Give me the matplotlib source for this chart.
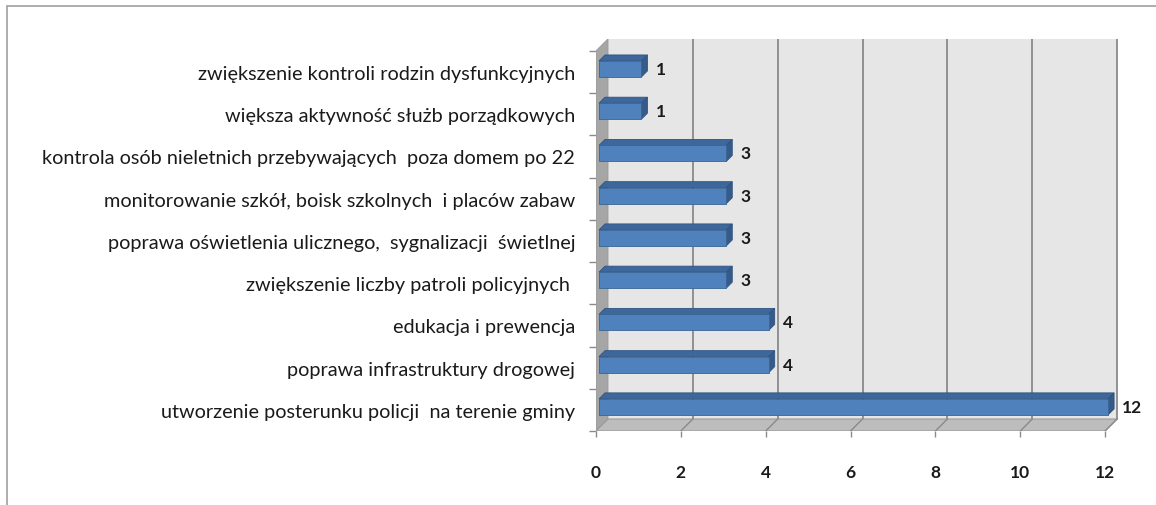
import numpy as np
import matplotlib
matplotlib.use("Agg")
import matplotlib.pyplot as plt
from matplotlib.patches import Polygon, Rectangle

plt.rcParams["font.family"] = ["Lato", "DejaVu Sans"]

# data, top to bottom as in the chart
categories = [
    "zwiększenie kontroli rodzin dysfunkcyjnych",
    "większa aktywność służb porządkowych",
    "kontrola osób nieletnich przebywających  poza domem po 22",
    "monitorowanie szkół, boisk szkolnych  i placów zabaw",
    "poprawa oświetlenia ulicznego,  sygnalizacji  świetlnej",
    "zwiększenie liczby patroli policyjnych ",
    "edukacja i prewencja",
    "poprawa infrastruktury drogowej",
    "utworzenie posterunku policji  na terenie gminy",
]
counts = [1, 1, 3, 3, 3, 3, 4, 4, 12]
x_ticks = [0, 2, 4, 6, 8, 10, 12]

W, H = 1156, 506
fig = plt.figure(figsize=(W / 100, H / 100), dpi=100)

xmax, ymax = 13.2, 9.28
ax = fig.add_axes([596 / W, 74 / H, 560 / W, 392 / H])
ax.set_xlim(0, xmax)
ax.set_ylim(0, ymax)
for s in ax.spines.values():
    s.set_visible(False)

# pixel -> data unit factors
ux = xmax / 560
uy = ymax / 392
n = len(categories)
vmax = x_ticks[-1]
dx, dy = 12 * ux, 12 * uy

# back wall
ax.add_patch(Rectangle((dx, dy), vmax, n, facecolor="#e6e6e6", edgecolor="none", zorder=1))
for t in x_ticks[1:]:
    ax.plot([t + dx, t + dx], [dy, n + dy], color="#8a8a8a", lw=1.3, zorder=2)
# left wall
ax.add_patch(Polygon([(0, 0), (dx, dy), (dx, n + dy), (0, n)], closed=True,
                     facecolor="#a6a6a6", edgecolor="#999999", lw=0.6, zorder=2))
# floor
ax.add_patch(Polygon([(0, 0), (vmax, 0), (vmax + dx, dy), (dx, dy)], closed=True,
                     facecolor="#bdbdbd", edgecolor="#9a9a9a", lw=0.8, zorder=2))
for t in x_ticks[1:]:
    ax.plot([t, t + dx], [0, dy], color="#8a8a8a", lw=1.0, zorder=3)

# bars
off_x, off_y = 3 * ux, 3 * uy
dep_x, dep_y = 6 * ux, 6 * uy
half = 8 * uy
ypos = np.arange(n)[::-1] + 0.5
for yc, v in zip(ypos, counts):
    y0, y1 = yc + off_y - half, yc + off_y + half
    x0, x1 = off_x, v + off_x
    top = [(x0, y1), (x1, y1), (x1 + dep_x, y1 + dep_y), (x0 + dep_x, y1 + dep_y)]
    side = [(x1, y0), (x1 + dep_x, y0 + dep_y), (x1 + dep_x, y1 + dep_y), (x1, y1)]
    ax.add_patch(Polygon(top, closed=True, facecolor="#3e679b", edgecolor="#2f5380", lw=0.6, zorder=5))
    ax.add_patch(Polygon(side, closed=True, facecolor="#365b88", edgecolor="#2f5380", lw=0.6, zorder=5))
    ax.add_patch(Rectangle((x0, y0), v, y1 - y0, facecolor="#4f81bd", edgecolor="#3a6595",
                           lw=0.6, zorder=6))
    ax.text(x1 + dep_x + 8 * ux, yc + off_y, str(v), ha="left", va="center",
            fontsize=12.5, fontweight="bold", color="#1a1a1a", zorder=7)

# axes ticks and labels
ax.set_xticks(x_ticks)
ax.set_xticklabels([str(t) for t in x_ticks], fontsize=12.5, fontweight="bold", color="#1a1a1a")
ax.tick_params(axis="x", length=4.5, width=1, color="#8a8a8a", pad=19)
ax.set_yticks(ypos)
ax.set_yticklabels(categories, fontsize=14.3, color="#1a1a1a")
ax.tick_params(axis="y", length=0, pad=15)
ax.set_yticks(np.arange(n + 1), minor=True)
ax.tick_params(axis="y", which="minor", length=5, width=1, color="#8a8a8a")

# outer frame
fig.patches.append(Rectangle((7 / W, -0.1), 1.2, (H - 7) / H + 0.1, transform=fig.transFigure,
                             fill=False, edgecolor="#a0a0a0", lw=1.2))

fig.savefig("out.png", dpi=100)
